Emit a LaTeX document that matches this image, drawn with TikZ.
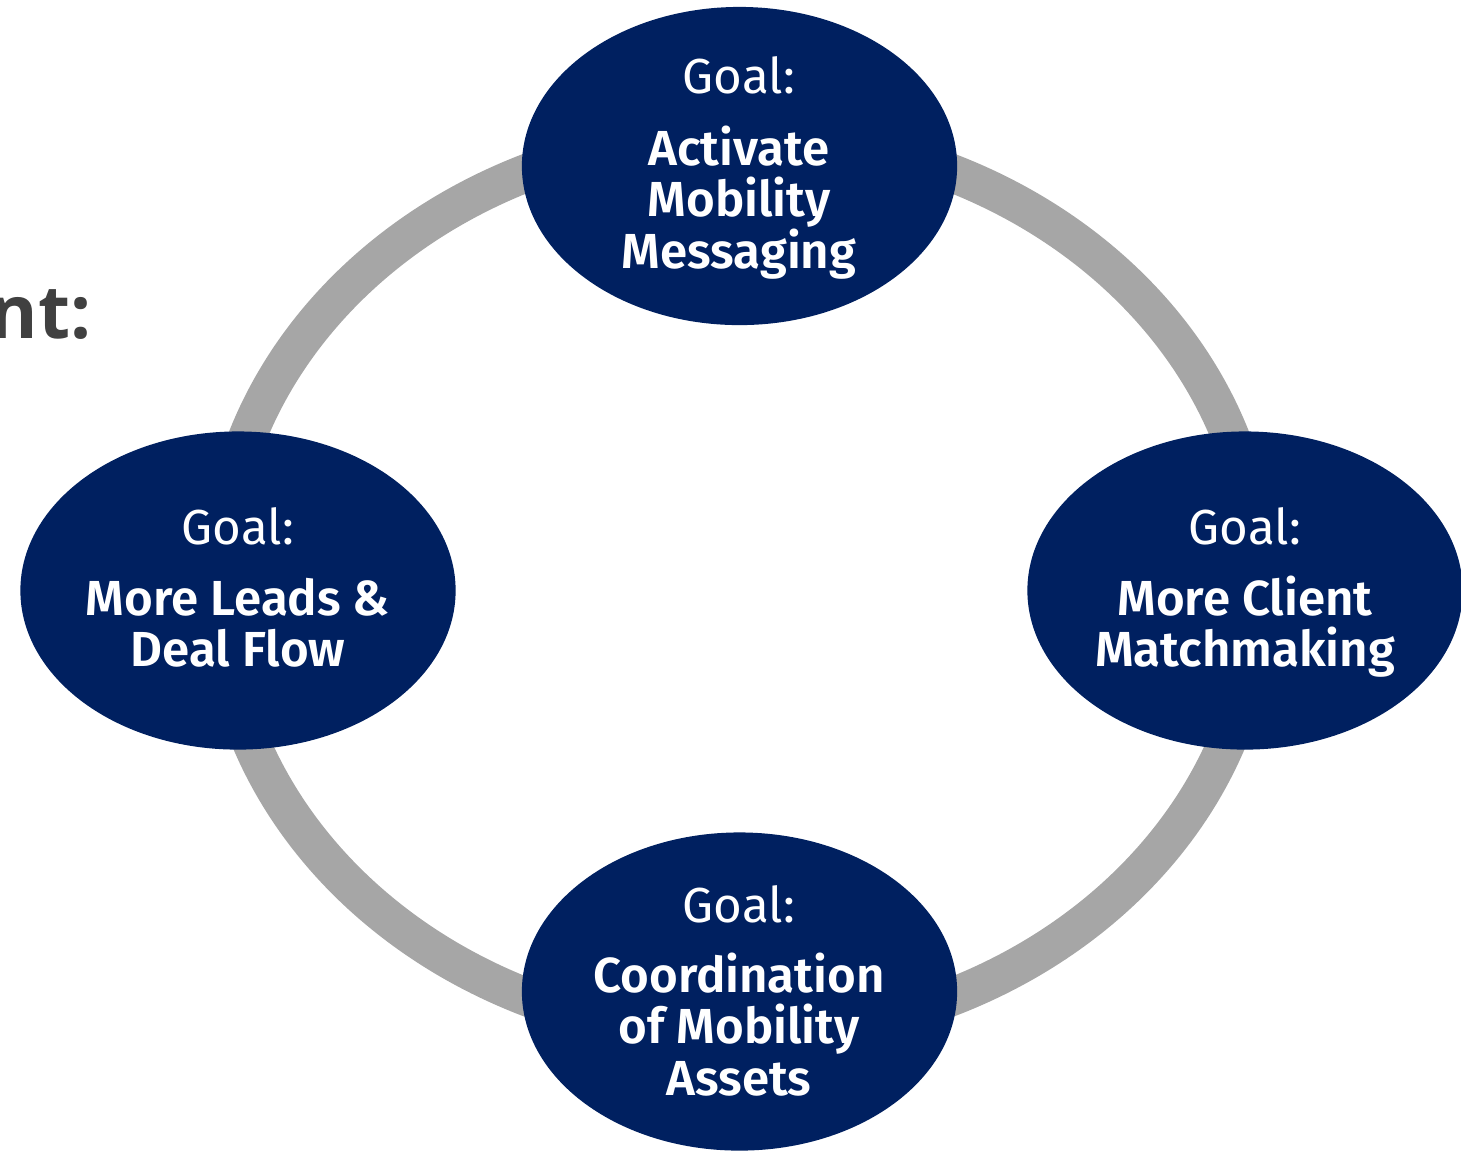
\documentclass[tikz,border=0pt]{standalone}
\usepackage{fontspec}
\setmainfont{Fira Sans}[BoldFont={Fira Sans SemiBold}]
\newfontfamily\titlefont{Open Sans}
\usetikzlibrary{shapes.geometric}
\definecolor{navy}{HTML}{002060}
\definecolor{ringgray}{HTML}{A6A6A6}
\definecolor{darktext}{HTML}{404040}
\begin{document}
\begin{tikzpicture}[x=0.01cm,y=-0.01cm,
  goal/.style={ellipse, fill=navy, inner sep=0, minimum width=4.35cm, minimum height=3.18cm},
  goallbl/.style={anchor=base, text=white, inner sep=0, font=\fontsize{14}{16}\selectfont},
  goalline/.style={anchor=base, text=white, inner sep=0, font=\fontsize{14}{16}\selectfont\bfseries},
  ringline/.style={draw=ringgray, line width=0.38cm}]
\clip (0,0) rectangle (1461,1150);
% ring
\draw[ringline] (739,585) ellipse [x radius=5.2cm, y radius=4.51cm];
% partial title
\node[anchor=base east, inner sep=0, text=darktext, font=\titlefont\bfseries\fontsize{21}{24}\selectfont] (title) at (92,338) {nt:};
% goal ellipses
\node[goal] (top) at (739.5,166) {};
\node[goal] (left) at (238,590.5) {};
\node[goal] (right) at (1245,590.5) {};
\node[goal] (bottom) at (739.5,991.5) {};
% top texts
\node[goallbl] (t0) at (739,93) {Goal:};
\node[goalline] (t1) at (739,165) {Activate};
\node[goalline] (t2) at (739,216) {Mobility};
\node[goalline] (t3) at (739,268) {Messaging};
% left texts
\node[goallbl] (l0) at (238,544) {Goal:};
\node[goalline] (l1) at (238,615) {More Leads \&};
\node[goalline] (l2) at (238,666) {Deal Flow};
% right texts
\node[goallbl] (r0) at (1245,544) {Goal:};
\node[goalline] (r1) at (1245,615) {More Client};
\node[goalline] (r2) at (1245,666) {Matchmaking};
% bottom texts
\node[goallbl] (b0) at (739,922) {Goal:};
\node[goalline] (b1) at (739,992) {Coordination};
\node[goalline] (b2) at (739,1043) {of Mobility};
\node[goalline] (b3) at (739,1095) {Assets};
\end{tikzpicture}
\end{document}
